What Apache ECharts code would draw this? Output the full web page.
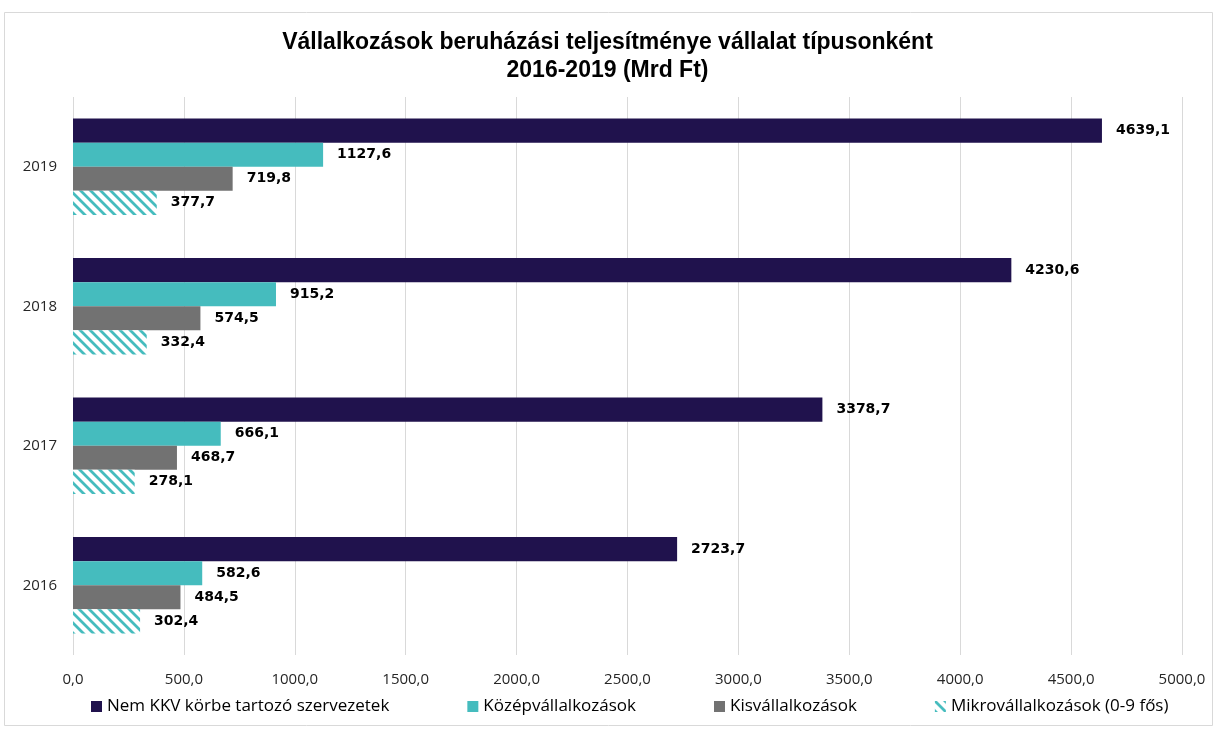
<!DOCTYPE html>
<html>
<head>
<meta charset="utf-8">
<script src="https://cdn.jsdelivr.net/npm/echarts@6/dist/echarts.min.js"></script>
<style>
  html, body { margin: 0; padding: 0; background: #fff; }
  #chart { width: 1215px; height: 729px; }
</style>
</head>
<body>
<div id="chart"></div>
<script>
// adatok
var years = ['2016', '2017', '2018', '2019'];
var nemKkv = [2723.7, 3378.7, 4230.6, 4639.1];
var kozep = [582.6, 666.1, 915.2, 1127.6];
var kis = [484.5, 468.7, 574.5, 719.8];
var mikro = [302.4, 278.1, 332.4, 377.7];
var seriesNames = ['Nem KKV körbe tartozó szervezetek', 'Középvállalkozások', 'Kisvállalkozások', 'Mikrovállalkozások (0-9 fős)'];

// csíkos minta a mikro sorhoz
function stripes() {
  var c = document.createElement('canvas');
  c.width = 10; c.height = 10;
  var ctx = c.getContext('2d');
  ctx.fillStyle = '#fff';
  ctx.fillRect(0, 0, 10, 10);
  ctx.strokeStyle = '#45bcbe';
  ctx.lineWidth = 2.8;
  ctx.beginPath();
  ctx.moveTo(-5, -5); ctx.lineTo(15, 15);
  ctx.moveTo(-5, 5); ctx.lineTo(5, 15);
  ctx.moveTo(5, -5); ctx.lineTo(15, 5);
  ctx.stroke();
  return c;
}

function fmt(v) { return v.toFixed(1).replace('.', ','); }

var label = {
  show: true,
  position: 'right',
  distance: 14,
  color: '#000',
  fontFamily: 'DejaVu Sans',
  fontWeight: 'bold',
  fontSize: 14,
  formatter: function (p) { return fmt(p.value); }
};

var chart = echarts.init(document.getElementById('chart'));
chart.setOption({
  animation: false,
  backgroundColor: '#fff',
  title: {
    text: 'Vállalkozások beruházási teljesítménye vállalat típusonként\n2016-2019 (Mrd Ft)',
    left: 'center',
    top: 24,
    textStyle: {
      fontFamily: 'Liberation Sans',
      fontWeight: 'bold',
      fontSize: 23,
      lineHeight: 28,
      color: '#000'
    }
  },
  graphic: [{
    type: 'rect',
    shape: { x: 4.5, y: 12.5, width: 1208, height: 713 },
    style: { fill: 'none', stroke: '#d9d9d9', lineWidth: 1 },
    silent: true
  }],
  legend: {
    bottom: 9,
    left: 86,
    icon: 'rect',
    itemWidth: 11,
    itemHeight: 11,
    itemGap: 78,
    data: seriesNames,
    textStyle: { fontFamily: 'Open Sans', fontSize: 17, color: '#000' }
  },
  grid: { left: 73, right: 33, top: 97, bottom: 74 },
  xAxis: {
    type: 'value',
    min: 0,
    max: 5000,
    interval: 500,
    axisLine: { show: false },
    axisTick: { show: false },
    splitLine: { lineStyle: { color: '#d9d9d9', width: 1 } },
    axisLabel: {
      margin: 17,
      fontFamily: 'Open Sans',
      fontSize: 15,
      color: '#262626',
      formatter: function (v) { return fmt(v); }
    }
  },
  yAxis: {
    type: 'category',
    data: years,
    axisLine: { show: false },
    axisTick: { show: false },
    axisLabel: { margin: 16, fontFamily: 'Open Sans', fontSize: 15, color: '#262626' }
  },
  series: [
    {
      name: seriesNames[0], type: 'bar', data: nemKkv,
      barGap: '0%', barCategoryGap: '31%',
      itemStyle: { color: '#20124d' }, label: label
    },
    {
      name: seriesNames[1], type: 'bar', data: kozep,
      itemStyle: { color: '#45bcbe' }, label: label
    },
    {
      name: seriesNames[2], type: 'bar', data: kis,
      itemStyle: { color: '#727272' }, label: label
    },
    {
      name: seriesNames[3], type: 'bar', data: mikro,
      itemStyle: { color: { image: stripes(), repeat: 'repeat' } },
      label: label
    }
  ]
});
</script>
</body>
</html>
